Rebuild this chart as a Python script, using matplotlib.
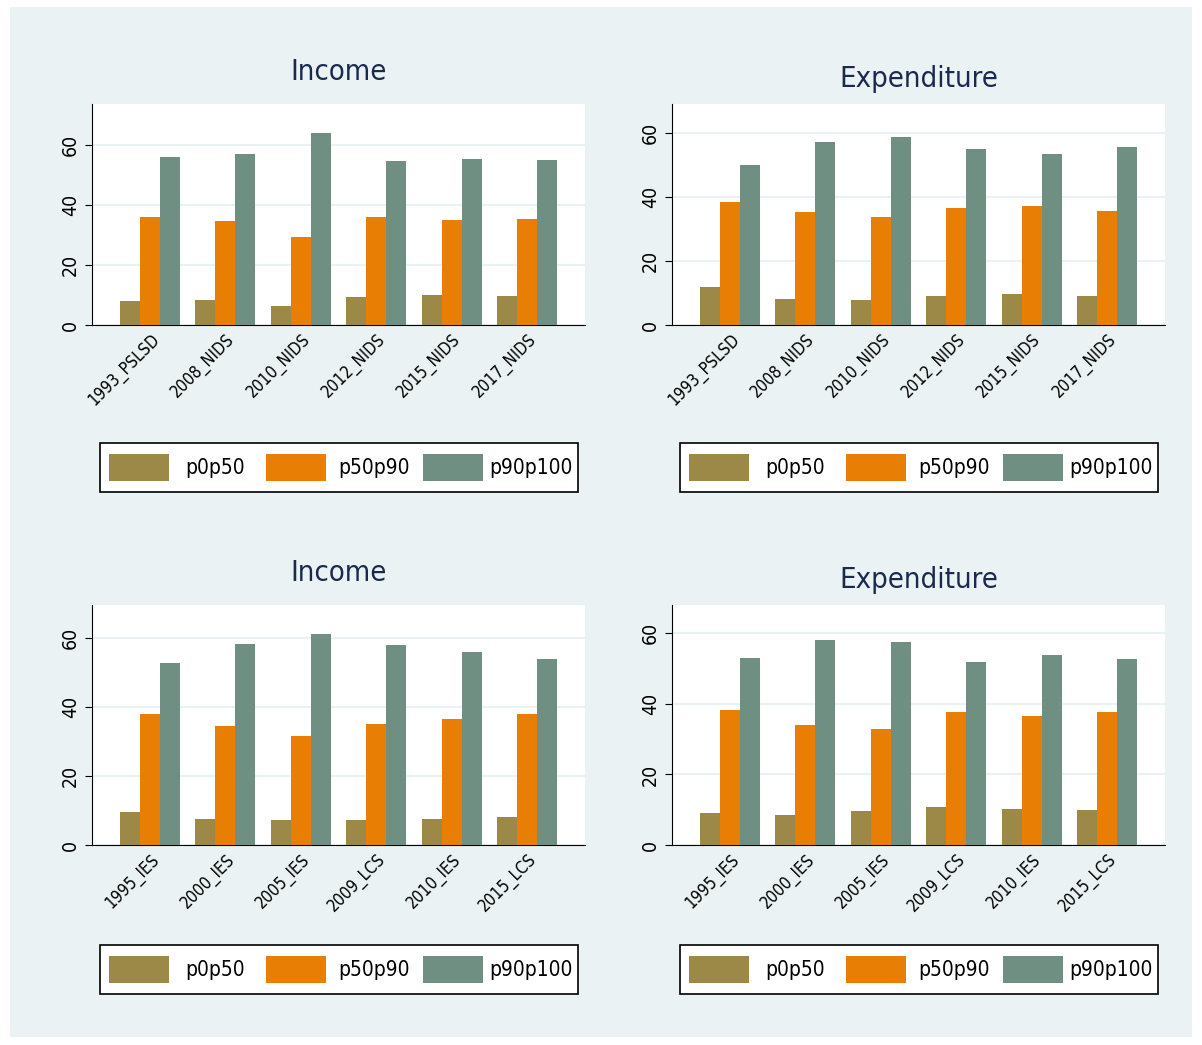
import numpy as np
import matplotlib
matplotlib.use('Agg')
import matplotlib.pyplot as plt
from matplotlib.patches import Rectangle

plt.rcParams['font.family'] = ['DejaVu Sans']
plt.rcParams['font.stretch'] = 'condensed'

SERIES = ['p0p50', 'p50p90', 'p90p100']
COLORS = ['#9C8847', '#E87E04', '#6F8F82']

top_labels = ['1993_PSLSD', '2008_NIDS', '2010_NIDS', '2012_NIDS', '2015_NIDS', '2017_NIDS']
bot_labels = ['1995_IES', '2000_IES', '2005_IES', '2009_LCS', '2010_IES', '2015_LCS']

inc_top_p0 = [8.0, 8.3, 6.5, 9.5, 10.0, 9.7]
inc_top_p50 = [36.0, 34.7, 29.5, 36.0, 35.0, 35.3]
inc_top_p90 = [56.0, 57.0, 64.0, 54.7, 55.2, 55.0]

exp_top_p0 = [11.8, 8.2, 7.8, 9.2, 9.7, 9.1]
exp_top_p50 = [38.5, 35.3, 33.8, 36.5, 37.0, 35.5]
exp_top_p90 = [50.0, 57.0, 58.8, 54.8, 53.5, 55.7]

inc_bot_p0 = [9.5, 7.5, 7.2, 7.2, 7.5, 8.2]
inc_bot_p50 = [38.0, 34.5, 31.5, 35.0, 36.5, 38.0]
inc_bot_p90 = [52.7, 58.3, 61.3, 58.0, 56.0, 53.8]

exp_bot_p0 = [9.2, 8.4, 9.5, 10.7, 10.1, 9.9]
exp_bot_p50 = [38.2, 34.0, 33.0, 37.6, 36.6, 37.6]
exp_bot_p90 = [53.0, 58.0, 57.5, 51.8, 53.7, 52.7]

W, H = 1202, 1045
fig = plt.figure(figsize=(W / 100, H / 100), dpi=100)
fig.patches.append(Rectangle((10 / W, 8 / H), 1182 / W, 1030 / H, transform=fig.transFigure,
                             facecolor='#EAF2F3', edgecolor='none', zorder=-1))


def panel(x0, y0, x1, y1, title, title_y, labels, data, ymax, leg_y):
    ax = fig.add_axes([x0 / W, 1 - y1 / H, (x1 - x0) / W, (y1 - y0) / H])
    x = np.arange(len(labels))
    w = 0.265
    for i, (vals, c) in enumerate(zip(data, COLORS)):
        ax.bar(x + (i - 1) * w, vals, w, color=c, zorder=3)
    ax.set_xlim(-0.77, 5.77)
    ax.set_ylim(0, ymax)
    ax.set_yticks([0, 20, 40, 60])
    ax.set_yticklabels(['0', '20', '40', '60'], rotation=90, va='center', fontsize=14)
    ax.grid(axis='y', color='#EAF2F3', lw=1.5, zorder=0)
    ax.set_xticks(x)
    ax.set_xticklabels(labels, rotation=45, ha='right', rotation_mode='anchor', fontsize=12)
    ax.tick_params(axis='x', length=0, pad=4)
    ax.tick_params(axis='y', length=5)
    for s in ['top', 'right']:
        ax.spines[s].set_visible(False)
    fig.text((x0 + x1) / 2 / W, 1 - title_y / H, title, ha='center', va='center',
             fontsize=21, color='#1A2A4E')
    # legend box drawn by hand in figure pixels
    lx0, lx1, ly0, ly1 = x0 + 8, x0 + 486, leg_y - 25, leg_y + 24
    fig.patches.append(Rectangle((lx0 / W, 1 - ly1 / H), (lx1 - lx0) / W, (ly1 - ly0) / H,
                                 transform=fig.transFigure, facecolor='white',
                                 edgecolor='black', lw=1.2))
    for k, (s, c) in enumerate(zip(SERIES, COLORS)):
        bx = lx0 + 9 + k * 157
        fig.patches.append(Rectangle((bx / W, 1 - (leg_y + 13) / H), 60 / W, 27 / H,
                                     transform=fig.transFigure, facecolor=c, edgecolor='none'))
        if k < 2:
            fig.text((lx0 + [85, 238][k]) / W, 1 - leg_y / H, s, ha='left', va='center', fontsize=15)
        else:
            fig.text((lx1 - 5) / W, 1 - leg_y / H, s, ha='right', va='center', fontsize=15)
    return ax


panel(92, 104, 585, 325, 'Income', 72, top_labels, [inc_top_p0, inc_top_p50, inc_top_p90], 73.7, 468)
panel(672, 104, 1165, 325, 'Expenditure', 79, top_labels, [exp_top_p0, exp_top_p50, exp_top_p90], 69.0, 468)
panel(92, 605, 585, 845, 'Income', 573, bot_labels, [inc_bot_p0, inc_bot_p50, inc_bot_p90], 69.6, 970)
panel(672, 605, 1165, 845, 'Expenditure', 580, bot_labels, [exp_bot_p0, exp_bot_p50, exp_bot_p90], 68.0, 970)

fig.savefig('out.png', dpi=100, facecolor='white')
